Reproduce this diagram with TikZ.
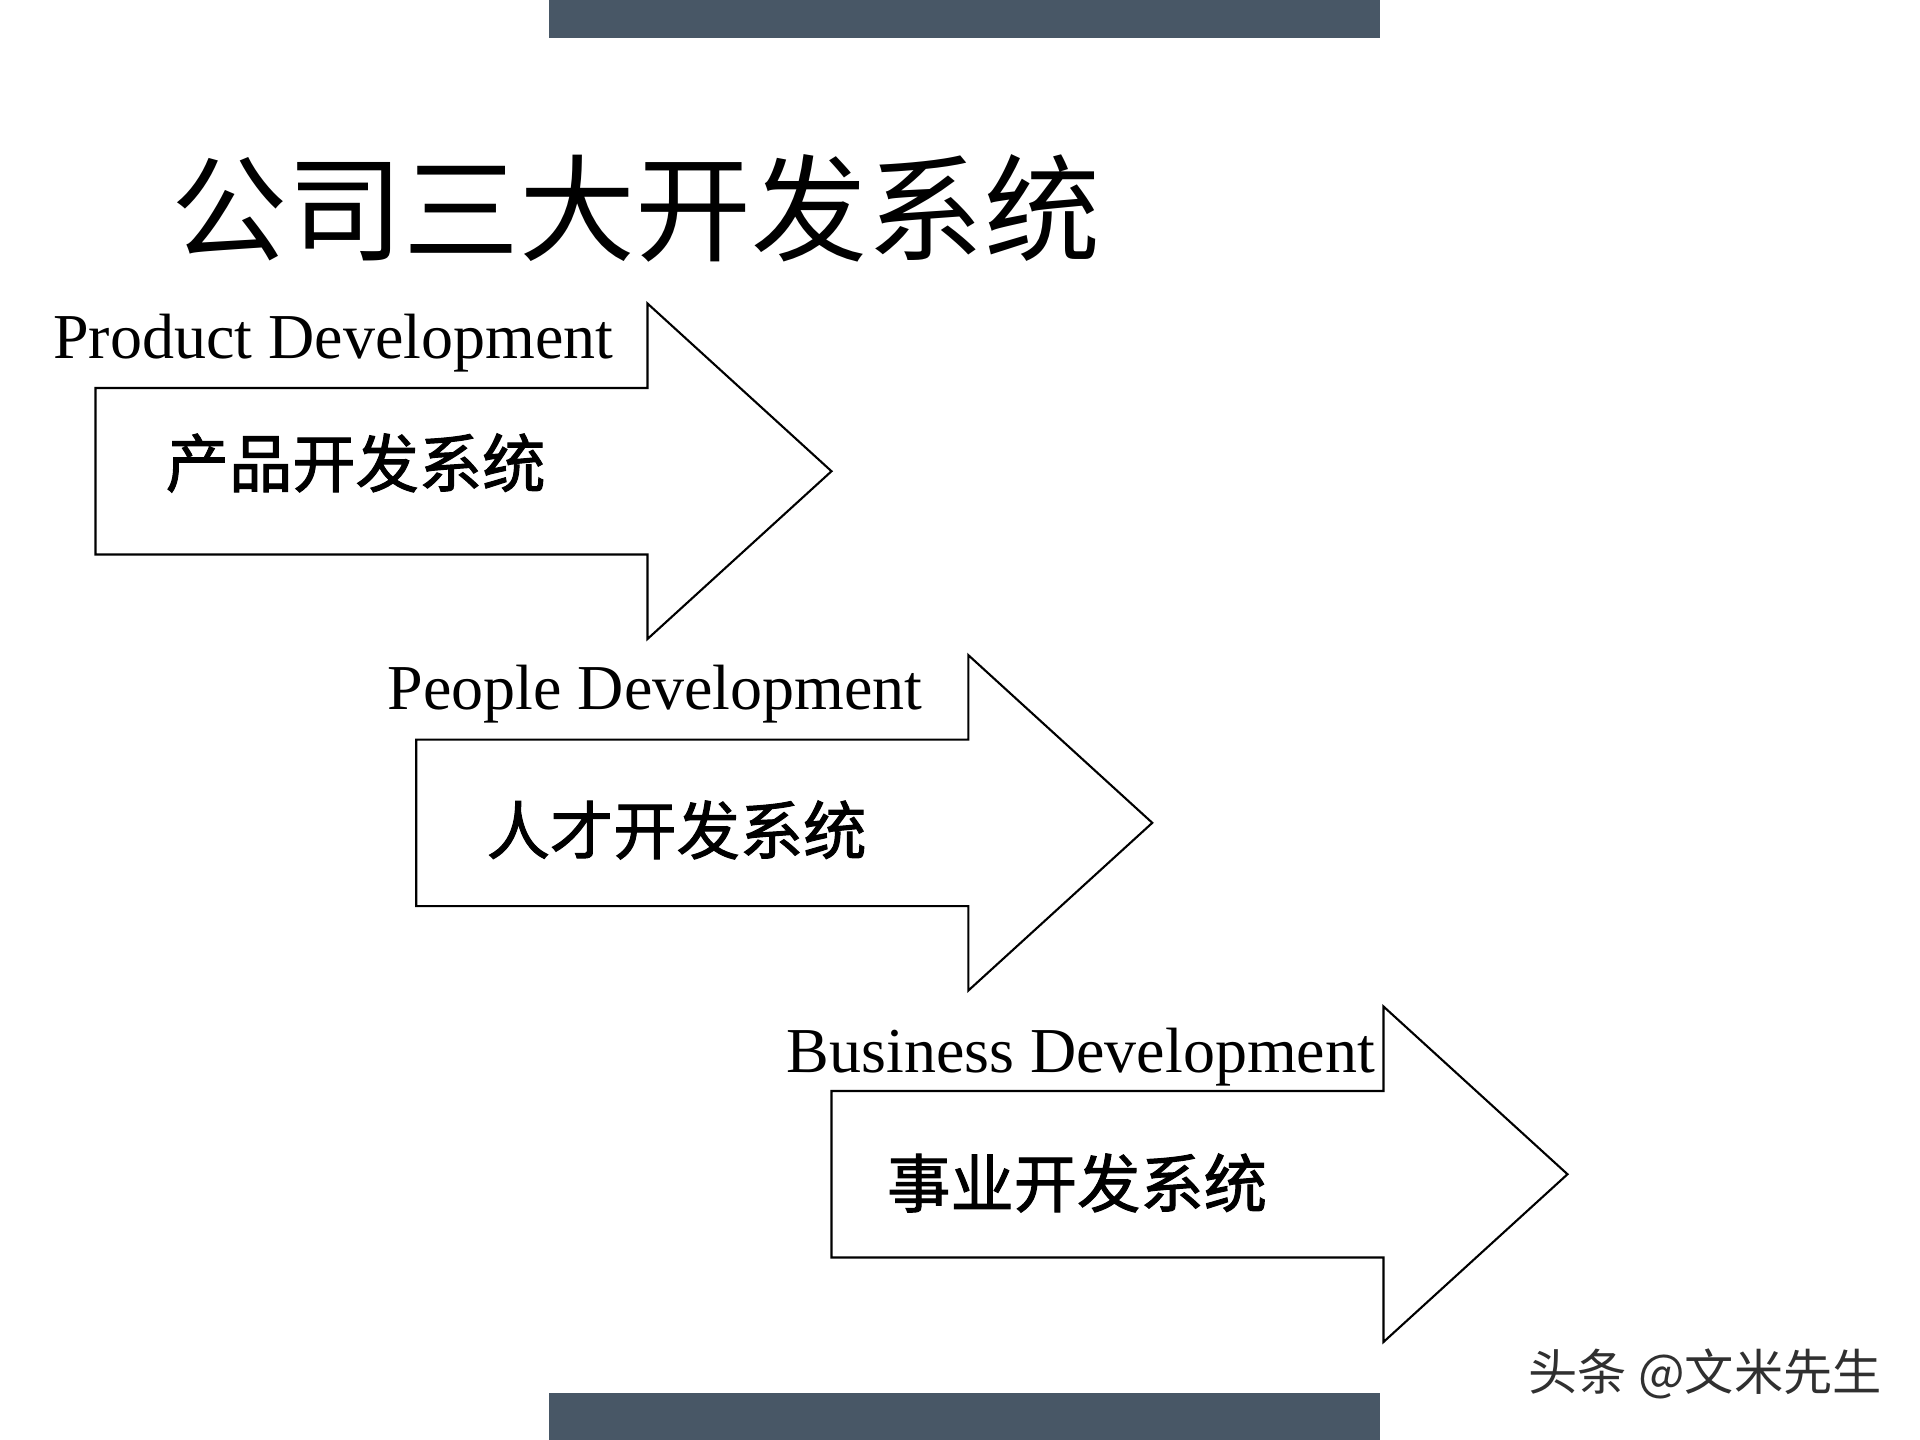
\documentclass[tikz,border=0pt]{standalone}
\usepackage{fontspec}
\setmainfont{Liberation Serif}
\newfontfamily\cjk{Noto Sans CJK SC}
\newfontfamily\cjkmed[FakeBold=1.6]{Noto Sans CJK SC}
\definecolor{barc}{HTML}{485766}
\definecolor{markc}{HTML}{303030}
\begin{document}
\begin{tikzpicture}[x=0.01cm,y=-0.01cm,
  arrowline/.style={draw=black, line width=0.6pt, fill=white},
  bar/.style={fill=barc, draw=none},
  entext/.style={anchor=base west, inner sep=0pt, font=\fontsize{18.2pt}{20pt}\selectfont},
  cntext/.style={anchor=west, inner sep=0pt, font=\cjkmed\fontsize{18pt}{20pt}\selectfont},
  titletext/.style={anchor=west, inner sep=0pt, font=\cjk\fontsize{33pt}{36pt}\selectfont},
  marktext/.style={anchor=west, inner sep=0pt, text=markc, font=\cjk\fontsize{14pt}{16pt}\selectfont},
  devarrow/.pic={\draw[arrowline] (0,0) -- (552,0) -- (552,-84.5) -- (736,83.25) -- (552,251) -- (552,166.5) -- (0,166.5) -- cycle;}
]
\useasboundingbox (0,0) rectangle (1920,1440);
\fill[white] (0,0) rectangle (1920,1440);
\fill[bar] (548.6,0) rectangle (1380,38);
\fill[bar] (548.6,1393) rectangle (1380,1440);
\node[titletext] (title) at (171,208) {公司三大开发系统};
\pic at (95.5,388) {devarrow};
\pic at (416.3,739.6) {devarrow};
\pic at (831.5,1091) {devarrow};
\node[entext] (en1) at (52.7,359) {Product Development};
\node[entext] (en2) at (387,710) {People Development};
\node[entext] (en3) at (786,1072.7) {Business Development};
\node[cntext] (cn1) at (165,463) {产品开发系统};
\node[cntext] (cn2) at (486,830) {人才开发系统};
\node[cntext] (cn3) at (886.5,1183) {事业开发系统};
\node[marktext] (mark) at (1528,1374) {头条 @文米先生};
\end{tikzpicture}
\end{document}
